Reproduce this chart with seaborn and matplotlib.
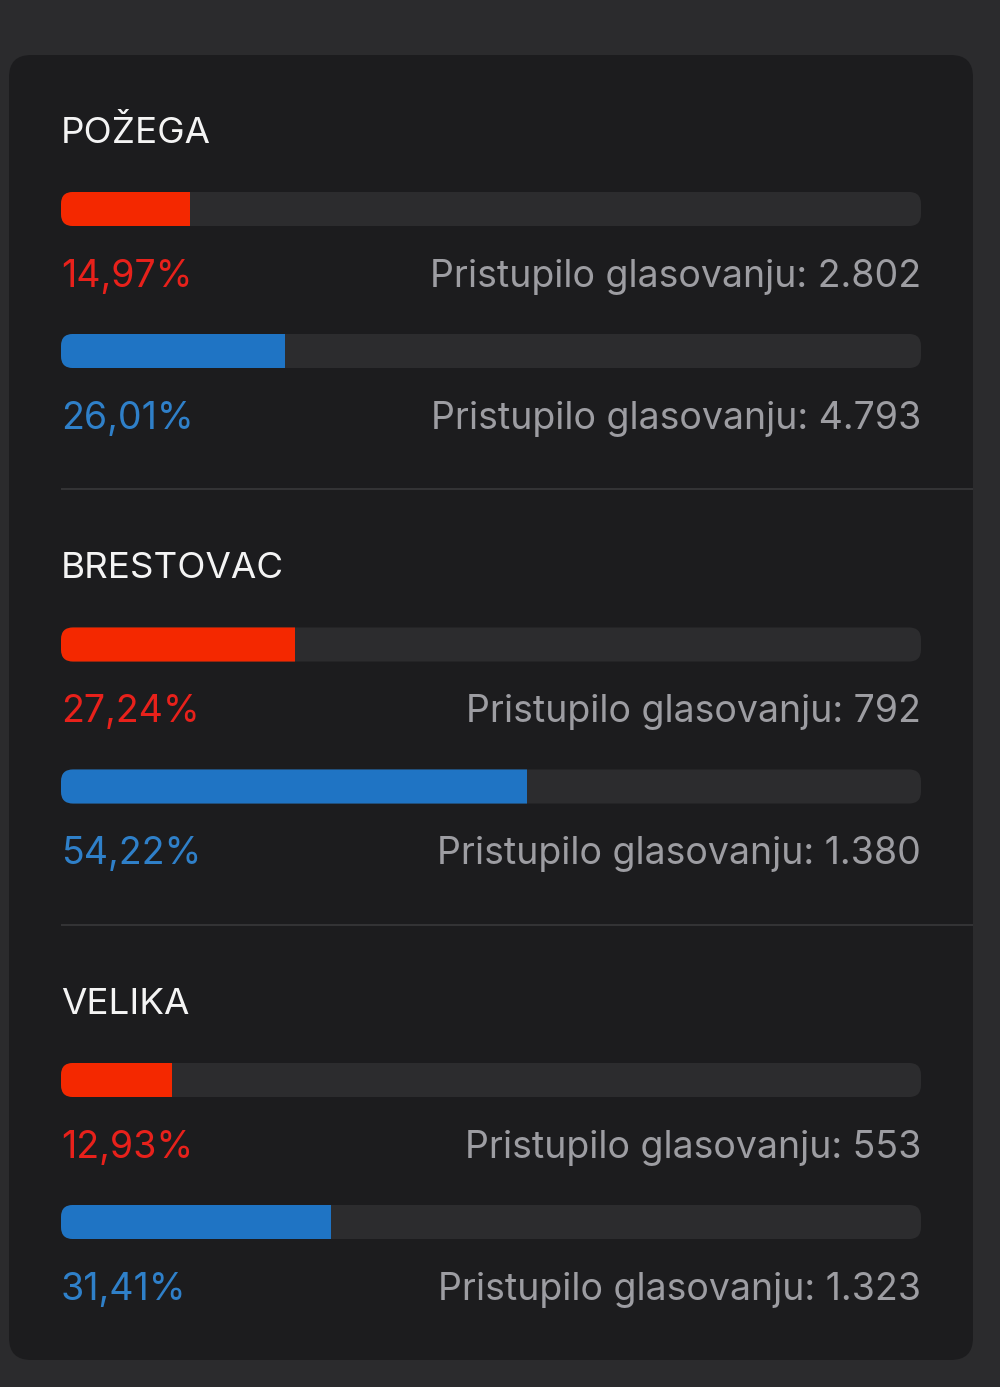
import numpy as np
import pandas as pd
import seaborn as sns
import matplotlib.pyplot as plt
from matplotlib.patches import FancyBboxPatch

# Data
places = ["POŽEGA", "BRESTOVAC", "VELIKA"]
red_pct = [14.97, 27.24, 12.93]
blue_pct = [26.01, 54.22, 31.41]
red_turnout = ["2.802", "792", "553"]
blue_turnout = ["4.793", "1.380", "1.323"]

# Colours
outer_bg = "#2b2b2d"
card_bg = "#1c1c1e"
track_col = "#2c2c2e"
red_bar = "#f42800"
blue_bar = "#1f74c4"
red_txt = "#e8211b"
blue_txt = "#2f80c9"
grey_txt = "#9d9da2"
title_txt = "#f4f4f4"

sns.set_theme(style="white")
plt.rcParams['font.family'] = ['Inter', 'DejaVu Sans']

W, H = 1000, 1387
fig = plt.figure(figsize=(W / 100, H / 100), dpi=100)
fig.patch.set_facecolor(outer_bg)

# card behind everything
card = FancyBboxPatch((0.09, 0.27), 9.64, 13.05,
                      boxstyle="round,pad=0,rounding_size=0.22",
                      transform=fig.dpi_scale_trans, facecolor=card_bg,
                      edgecolor="none", zorder=-10)
fig.patches.append(card)

unit = 142.0          # px per category step
xscale = 860 / 100.0  # px per percent
rad = 12.0            # corner radius px
for k, place in enumerate(places):
    top = 123.8 + 435.5 * k
    height = 2.2 * unit
    ax = fig.add_axes([61 / W, 1 - (top + height) / H, 860 / W, height / H])
    ax.set_facecolor("none")

    df = pd.DataFrame({
        "row": ["red", "blue"],
        "pct": [red_pct[k], blue_pct[k]],
        "full": [100, 100],
    })
    sns.barplot(data=df, x="full", y="row", color=track_col, width=0.24,
                saturation=1, orient="h", linewidth=0, ax=ax)
    n_track = len(ax.patches)
    sns.barplot(data=df, x="pct", y="row", hue="row",
                palette={"red": red_bar, "blue": blue_bar}, width=0.24,
                saturation=1, orient="h", legend=False, linewidth=0, ax=ax)
    ax.set_xlim(0, 100)
    ax.set_ylim(1.6, -0.6)
    ax.axis("off")

    tracks = ax.patches[:n_track]
    values = ax.patches[n_track:]
    for tr, val in zip(tracks, values):
        x0, y0 = tr.get_x(), tr.get_y()
        w, h = tr.get_width(), tr.get_height()
        tr.set_visible(False)
        rounded = FancyBboxPatch((x0, y0), w, h,
                                 boxstyle=f"round,pad=0,rounding_size={rad / xscale}",
                                 mutation_aspect=xscale / unit,
                                 facecolor=track_col, edgecolor="none", zorder=1)
        ax.add_patch(rounded)
        val.set_zorder(2)
        val.set_edgecolor("none")
        val.set_clip_path(rounded)

    ax.text(0, -0.465, place, color=title_txt, fontsize=26.5,
            ha="left", va="baseline", clip_on=False)

    for i, (pct, turn, col) in enumerate([(red_pct[k], red_turnout[k], red_txt),
                                          (blue_pct[k], blue_turnout[k], blue_txt)]):
        label = f"{pct:.2f}".replace(".", ",") + "%"
        ax.text(0, i + 0.549, label, color=col, fontsize=27,
                ha="left", va="baseline", clip_on=False)
        ax.text(100, i + 0.549, f"Pristupilo glasovanju: {turn}", color=grey_txt,
                fontsize=27, ha="right", va="baseline", clip_on=False)

    if k < len(places) - 1:
        ax.plot([0, 106.05], [1.972, 1.972], color="#38383a", lw=1.2,
                clip_on=False, solid_capstyle="butt")

fig.savefig("out.png", dpi=100, facecolor=outer_bg)
